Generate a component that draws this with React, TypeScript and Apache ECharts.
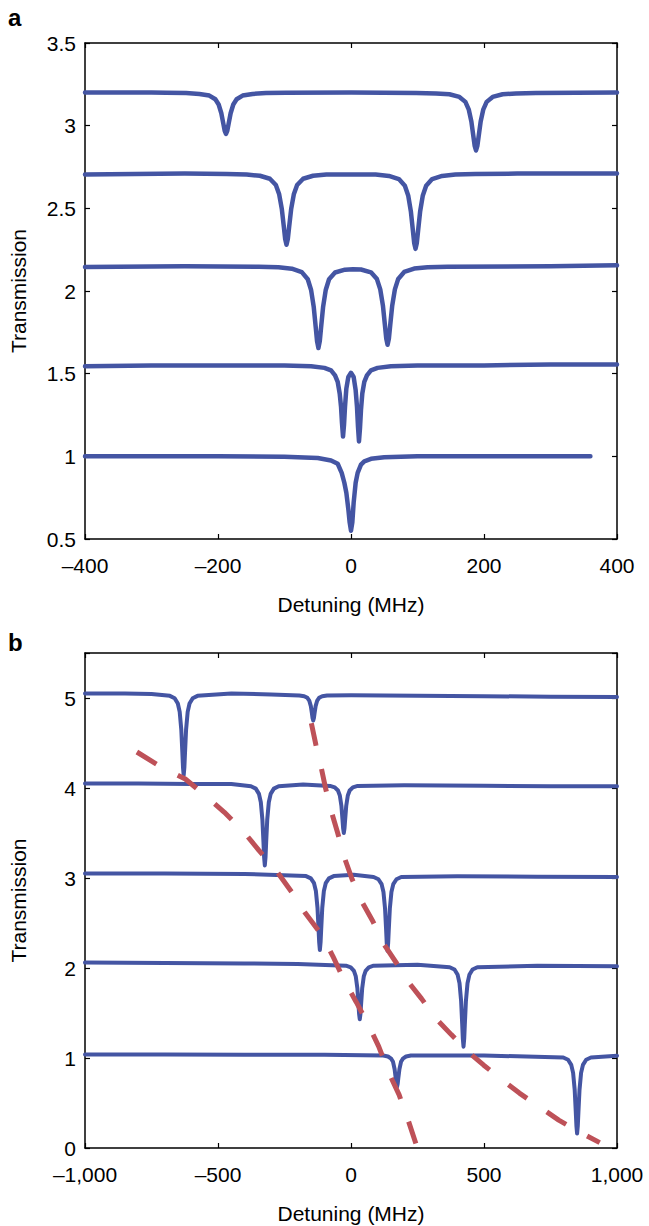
import React, { useEffect, useRef } from "react";
import * as echarts from "echarts";

// ---------- Panel a: axis ticks ----------
const xTicksA = [-400, -200, 0, 200, 400];
const xLabelsA = ["\u2013400", "\u2013200", "0", "200", "400"];
const yTicksA = [0.5, 1, 1.5, 2, 2.5, 3, 3.5];

// ---------- Panel b: axis ticks ----------
const xTicksB = [-1000, -500, 0, 500, 1000];
const xLabelsB = ["\u20131,000", "\u2013500", "0", "500", "1,000"];
const yTicksB = [0, 1, 2, 3, 4, 5];

// ---------- Panel a traces [detuning MHz, transmission] ----------
const traceA1 = [
  [-400, 1.0], [-300, 1.0], [-200, 1.0], [-100, 0.997], [-50, 0.99], [-30, 0.975], [-20, 0.955],
  [-14, 0.9], [-10, 0.84], [-7, 0.78], [-4, 0.68], [-2, 0.6], [0, 0.55], [2, 0.6], [4, 0.72],
  [7, 0.84], [10, 0.9], [15, 0.95], [20, 0.97], [30, 0.985], [50, 0.995], [100, 1.0], [200, 1.0],
  [300, 1.0], [360, 1.0],
];
const traceA2 = [
  [-400, 1.545], [-300, 1.55], [-200, 1.55], [-100, 1.55], [-60, 1.545], [-40, 1.535], [-30, 1.52],
  [-24, 1.49], [-20, 1.45], [-17, 1.38], [-15, 1.3], [-13.5, 1.2], [-12, 1.12], [-10.5, 1.19],
  [-9, 1.3], [-7, 1.41], [-4, 1.48], [0, 1.505], [4, 1.48], [7, 1.4], [9, 1.3], [10.5, 1.18],
  [12, 1.09], [13.5, 1.17], [15, 1.28], [17, 1.38], [20, 1.45], [24, 1.49], [30, 1.52], [40, 1.535],
  [60, 1.545], [100, 1.55], [200, 1.55], [300, 1.555], [400, 1.555],
];
const traceA3 = [
  [-400, 2.145], [-250, 2.15], [-139, 2.147], [-109, 2.144],
  [-89, 2.135], [-74, 2.114], [-65, 2.071], [-60, 2.006], [-56, 1.902], [-53, 1.779], [-51, 1.695],
  [-49, 1.655], [-47, 1.695], [-45, 1.779], [-42, 1.902], [-38, 2.006], [-33, 2.071], [-24, 2.112],
  [-9, 2.129], [3, 2.132], [15, 2.13],
  [30, 2.113], [39, 2.072], [44, 2.01], [48, 1.912], [51, 1.794], [53, 1.713],
  [55, 1.675], [57, 1.713], [59, 1.794], [62, 1.912], [66, 2.01], [71, 2.073], [80, 2.115],
  [95, 2.136], [115, 2.144], [145, 2.147], [300, 2.15], [400, 2.155],
];
const traceA4 = [
  [-400, 2.705], [-250, 2.71], [-187, 2.707], [-157, 2.704],
  [-137, 2.697], [-122, 2.679], [-113, 2.641], [-108, 2.585], [-104, 2.495], [-101, 2.388],
  [-99, 2.314], [-97, 2.28], [-95, 2.314], [-93, 2.388], [-90, 2.495], [-86, 2.585], [-81, 2.641],
  [-72, 2.679], [-57, 2.697], [-37, 2.704], [0, 2.705], [37, 2.704],
  [57, 2.696], [72, 2.677], [81, 2.637], [86, 2.578], [90, 2.482], [93, 2.369], [95, 2.291],
  [97, 2.255], [99, 2.291], [101, 2.369], [104, 2.482], [108, 2.578], [113, 2.637], [122, 2.677],
  [137, 2.696], [157, 2.704], [187, 2.707], [250, 2.71], [400, 2.71],
];
const traceA5 = [
  [-400, 3.2], [-300, 3.2], [-278, 3.199], [-248, 3.197],
  [-228, 3.192], [-213, 3.182], [-204, 3.16], [-199, 3.128], [-195, 3.075], [-192, 3.012], [-190, 2.97],
  [-188, 2.95], [-186, 2.97], [-184, 3.012], [-181, 3.075], [-177, 3.128], [-172, 3.16], [-163, 3.182],
  [-148, 3.192], [-128, 3.197], [-98, 3.199], [0, 3.2], [98, 3.198], [128, 3.195],
  [148, 3.19], [163, 3.174], [172, 3.144], [177, 3.099], [181, 3.025], [184, 2.937], [186, 2.878],
  [188, 2.85], [190, 2.878], [192, 2.937], [195, 3.025], [199, 3.099], [204, 3.144], [213, 3.174],
  [228, 3.19], [248, 3.195], [278, 3.198], [400, 3.2],
];

// ---------- Panel b traces ----------
const traceB1 = [
  [-1000, 1.04], [-700, 1.04], [-400, 1.035], [-100, 1.035],
  [121, 1.027], [139, 1.017], [151, 0.993], [158, 0.957], [164, 0.875], [168, 0.779], [170.4, 0.716],
  [173, 0.68], [175.6, 0.716], [178, 0.779], [182, 0.875], [188, 0.957], [195, 0.993], [207, 1.017],
  [225, 1.027], [500, 1.028],
  [798, 1.005], [816, 0.98], [828, 0.924], [835, 0.835], [841, 0.644], [845, 0.402], [847.4, 0.247],
  [850, 0.16], [852.6, 0.247], [855, 0.402], [859, 0.644], [865, 0.835], [872, 0.924], [884, 0.98],
  [902, 1.005], [1000, 1.025],
];
const traceB2 = [
  [-1000, 2.06], [-700, 2.055], [-400, 2.05], [-200, 2.045],
  [-19, 2.026], [-1, 2.008], [11, 1.969], [18, 1.906], [24, 1.772], [28, 1.601], [30.4, 1.491],
  [33, 1.43], [35.6, 1.491], [38, 1.601], [42, 1.772], [48, 1.906], [55, 1.969], [67, 2.008],
  [85, 2.026], [250, 2.035],
  [371, 2.009], [389, 1.983], [401, 1.924], [408, 1.831], [414, 1.632], [418, 1.379], [420.4, 1.216],
  [423, 1.126], [425.6, 1.216], [428, 1.379], [432, 1.632], [438, 1.831], [445, 1.924], [457, 1.983],
  [475, 2.009], [700, 2.025], [1000, 2.02],
];
const traceB3 = [
  [-1000, 3.05], [-700, 3.05], [-400, 3.045],
  [-169, 3.021], [-151, 2.996], [-139, 2.942], [-132, 2.855], [-126, 2.67], [-122, 2.435],
  [-119.6, 2.284], [-117, 2.2], [-114.4, 2.284], [-112, 2.435], [-108, 2.67], [-102, 2.855],
  [-95, 2.942], [-83, 2.996], [-65, 3.021], [10, 3.035],
  [85, 3.011], [103, 2.986], [115, 2.932], [122, 2.845], [128, 2.66], [132, 2.425], [134.4, 2.274],
  [137, 2.19], [139.6, 2.274], [142, 2.425], [146, 2.66], [152, 2.845], [159, 2.932], [171, 2.986],
  [189, 3.011], [400, 3.02], [700, 3.015], [1000, 3.01],
];
const traceB4 = [
  [-1000, 4.05], [-800, 4.05], [-600, 4.045], [-450, 4.045],
  [-376, 4.019], [-358, 3.993], [-346, 3.935], [-339, 3.842], [-333, 3.644], [-329, 3.392],
  [-326.6, 3.23], [-324, 3.14], [-321.4, 3.23], [-319, 3.392], [-315, 3.644], [-309, 3.842],
  [-302, 3.935], [-290, 3.993], [-272, 4.019], [-180, 4.038],
  [-79, 4.023], [-61, 4.007], [-49, 3.972], [-42, 3.917], [-36, 3.8], [-32, 3.65], [-29.6, 3.554],
  [-27, 3.5], [-24.4, 3.554], [-22, 3.65], [-18, 3.8], [-12, 3.917], [-5, 3.972], [7, 4.007],
  [25, 4.023], [200, 4.03], [500, 4.025], [750, 4.02], [1000, 4.02],
];
const traceB5 = [
  [-1000, 5.05], [-850, 5.05], [-750, 5.045],
  [-681, 5.024], [-663, 4.998], [-651, 4.939], [-644, 4.846], [-638, 4.647], [-634, 4.393],
  [-631.6, 4.231], [-629, 4.14], [-626.4, 4.231], [-624, 4.393], [-620, 4.647], [-614, 4.846],
  [-607, 4.939], [-595, 4.998], [-577, 5.024], [-450, 5.05], [-300, 5.04],
  [-194, 5.028], [-176, 5.02], [-164, 5.002], [-157, 4.972], [-151, 4.91], [-147, 4.83],
  [-144.6, 4.778], [-142, 4.75], [-139.4, 4.778], [-137, 4.83], [-133, 4.91], [-127, 4.972],
  [-120, 5.002], [-108, 5.02], [-90, 5.028], [0, 5.03], [250, 5.025], [500, 5.02], [750, 5.015],
  [1000, 5.01],
];

// ---------- Panel b dashed guide curves ----------
const fitLeftB = [
  [-805, 4.4], [-723, 4.25], [-623, 4.1], [-553, 3.93], [-476, 3.73], [-405, 3.52], [-347, 3.31],
  [-283, 3.09], [-222, 2.84], [-174, 2.62], [-106, 2.35], [-68, 2.13], [-27, 1.87], [20, 1.62],
  [65, 1.37], [104, 1.13], [140, 0.85], [181, 0.59], [217, 0.29], [245, 0.04],
];
const fitRightB = [
  [-149, 4.72], [-132, 4.48], [-113, 4.24], [-95, 3.99], [-74, 3.74], [-50, 3.5], [-24, 3.22],
  [5, 2.98], [44, 2.72], [82, 2.52], [120, 2.28], [172, 2.05], [217, 1.84], [265, 1.66],
  [319, 1.44], [377, 1.26], [447, 1.05], [499, 0.92], [576, 0.74], [633, 0.61], [717, 0.44],
  [781, 0.31], [858, 0.18], [935, 0.06],
];

const BLUE = "#4455a3";
const RED = "#be5158";
const FONT = '"Liberation Sans", Arial, Helvetica, sans-serif';

function labelFor(ticks: number[], labels: string[]) {
  return (v: number) => {
    const i = ticks.findIndex((t) => Math.abs(t - v) < 1e-9);
    return i >= 0 ? labels[i] : "";
  };
}

export default function App() {
  const ref = useRef<HTMLDivElement>(null);

  useEffect(() => {
    if (!ref.current) return;
    const chart = echarts.init(ref.current, undefined, { renderer: "svg" });

    const axisLine = { show: true, onZero: false, lineStyle: { color: "#000", width: 1.5 } };
    const tick = { show: true, inside: true, length: 5, lineStyle: { color: "#000", width: 1.2 } };
    const lbl = { color: "#000", fontSize: 21, fontFamily: FONT };
    const nameStyle = { color: "#000", fontSize: 21, fontFamily: FONT };

    const xMain = (grid: number, min: number, max: number, interval: number, ticks: number[], labels: string[]) => ({
      type: "value", gridIndex: grid, min, max, interval, position: "bottom",
      axisLine, axisTick: tick, splitLine: { show: false },
      axisLabel: { ...lbl, margin: 16, interval: 0, showMinLabel: true, showMaxLabel: true, formatter: labelFor(ticks, labels) },
      name: "Detuning (MHz)", nameLocation: "middle", nameGap: 55, nameTextStyle: nameStyle,
    });
    const xTop = (grid: number, min: number, max: number, interval: number) => ({
      type: "value", gridIndex: grid, min, max, interval, position: "top",
      axisLine, axisTick: tick, splitLine: { show: false }, axisLabel: { show: false },
    });
    const yMain = (grid: number, min: number, max: number, interval: number, ticks: number[]) => ({
      type: "value", gridIndex: grid, min, max, interval, position: "left",
      axisLine, axisTick: tick, splitLine: { show: false },
      axisLabel: {
        ...lbl, margin: 9, interval: 0, showMinLabel: true, showMaxLabel: true,
        formatter: (v: number) => (ticks.some((t) => Math.abs(t - v) < 1e-9) ? String(v) : ""),
      },
      name: "Transmission", nameLocation: "middle", nameGap: 56, nameTextStyle: nameStyle,
    });
    const yRight = (grid: number, min: number, max: number, interval: number) => ({
      type: "value", gridIndex: grid, min, max, interval, position: "right",
      axisLine, axisTick: tick, splitLine: { show: false }, axisLabel: { show: false },
    });

    const trace = (data: number[][], xi: number, yi: number, w: number) => ({
      type: "line", data, xAxisIndex: xi, yAxisIndex: yi, symbol: "none", silent: true,
      lineStyle: { color: BLUE, width: w, cap: "round", join: "round" }, z: 2,
    });
    const dashed = (data: number[][]) => ({
      type: "line", data, xAxisIndex: 2, yAxisIndex: 2, symbol: "none", silent: true,
      lineStyle: { color: RED, width: 5, type: [23, 24], cap: "butt" }, z: 3,
    });

    chart.setOption({
      animation: false,
      textStyle: { fontFamily: FONT },
      grid: [
        { left: 85, top: 43, width: 532, height: 496, containLabel: false },
        { left: 85, top: 653, width: 532, height: 495, containLabel: false },
      ],
      xAxis: [
        xMain(0, -400, 400, 200, xTicksA, xLabelsA),
        xTop(0, -400, 400, 200),
        xMain(1, -1000, 1000, 500, xTicksB, xLabelsB),
        xTop(1, -1000, 1000, 500),
      ],
      yAxis: [
        yMain(0, 0.5, 3.5, 0.5, yTicksA),
        yRight(0, 0.5, 3.5, 0.5),
        yMain(1, 0, 5.5, 1, yTicksB),
        yRight(1, 0, 5.5, 1),
      ],
      graphic: [
        { type: "text", x: 8, y: 17, style: { text: "a", font: `bold 24px ${FONT}`, fill: "#000", verticalAlign: "middle" } },
        { type: "text", x: 8, y: 642, style: { text: "b", font: `bold 24px ${FONT}`, fill: "#000", verticalAlign: "middle" } },
      ],
      series: [
        trace(traceA1, 0, 0, 4.5),
        trace(traceA2, 0, 0, 4.5),
        trace(traceA3, 0, 0, 4.5),
        trace(traceA4, 0, 0, 4.5),
        trace(traceA5, 0, 0, 4.5),
        trace(traceB1, 2, 2, 4),
        trace(traceB2, 2, 2, 4),
        trace(traceB3, 2, 2, 4),
        trace(traceB4, 2, 2, 4),
        trace(traceB5, 2, 2, 4),
        dashed(fitLeftB),
        dashed(fitRightB),
      ],
    });

    return () => chart.dispose();
  }, []);

  return (
    <div
      ref={ref}
      style={{ position: "absolute", left: 0, top: 0, width: 649, height: 1226, background: "#fff" }}
    />
  );
}
